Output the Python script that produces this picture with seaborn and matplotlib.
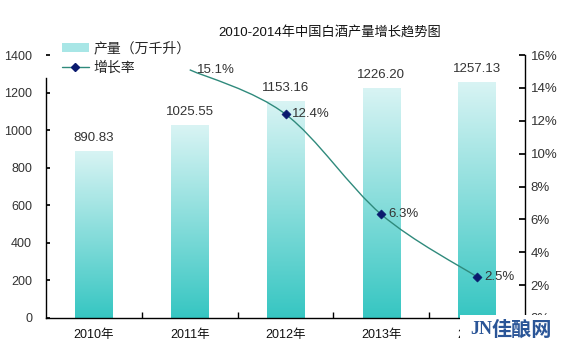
import numpy as np
import pandas as pd
import matplotlib
matplotlib.use("Agg")
import matplotlib.pyplot as plt
import seaborn as sns
from matplotlib.path import Path
from matplotlib.patches import PathPatch, Patch, Rectangle
from matplotlib.lines import Line2D
from matplotlib.colors import LinearSegmentedColormap

years = ["2010年", "2011年", "2012年", "2013年", "2014年"]
output = [890.83, 1025.55, 1153.16, 1226.20, 1257.13]
growth_years = ["2011年", "2012年", "2013年", "2014年"]
growth = [15.1, 12.4, 6.3, 2.5]
title = "2010-2014年中国白酒产量增长趋势图"
bar_label = "产量（万千升）"
line_label = "增长率"

sns.set_theme(style="white")
FAM = ["Liberation Sans", "Noto Sans CJK SC", "DejaVu Sans"]
plt.rcParams["font.family"] = FAM
TXT = "#333333"

W, H = 564, 348
fig = plt.figure(figsize=(W / 100, H / 100), dpi=100)
L, R, T, B = 46, 525, 55, 318
ax = fig.add_axes([L / W, 1 - B / H, (R - L) / W, (B - T) / H])

df = pd.DataFrame({"year": years, "output": output})
sns.barplot(data=df, x="year", y="output", ax=ax, width=0.39, color="#7fd8d8",
            saturation=1, zorder=2)
ax.set_xlim(-0.5, len(years) - 0.5)
ax.set_ylim(0, 1400)
ax.set_yticks(np.arange(0, 1401, 200))
ax.set_xlabel("")
ax.set_ylabel("")

# gradient fill for bars
cmap = LinearSegmentedColormap.from_list("g", ["#36c6c2", "#d9f4f4"])
grad = np.linspace(0, 1, 256).reshape(-1, 1)
for p in list(ax.patches):
    x0, y0 = p.get_x(), p.get_y()
    w, h = p.get_width(), p.get_height()
    im = ax.imshow(grad, extent=[x0, x0 + w, y0, y0 + h], origin="lower",
                   cmap=cmap, aspect="auto", zorder=2, interpolation="bicubic")
    im.set_clip_path(p)
    p.set_facecolor("none")
    p.set_edgecolor("none")
    ax.annotate(f"{h:.2f}", (x0 + w / 2, y0 + h), xytext=(0, 5),
                textcoords="offset points", ha="center", va="bottom",
                fontsize=9.5, color=TXT)
ax.set_xlim(-0.5, len(years) - 0.5)
ax.set_ylim(0, 1400)

for s in ["top", "right"]:
    ax.spines[s].set_visible(False)
for s in ["left", "bottom"]:
    ax.spines[s].set_color("black")
    ax.spines[s].set_linewidth(1)
ax.spines["left"].set_bounds(0, 1277)
ax.tick_params(axis="y", direction="in", length=3, colors="black",
               labelcolor=TXT, labelsize=9, left=True, pad=10)
ax.yaxis.get_major_ticks()[-1].tick1line.set_visible(False)
ax.tick_params(axis="x", length=0, labelsize=9, labelcolor="#111111", pad=8)
ax.set_xticks(np.arange(0.5, len(years) - 1, 1), minor=True)
ax.tick_params(axis="x", which="minor", direction="in", length=4,
               bottom=True, color="black")

# growth line on twin axis
ax2 = ax.twinx()
ax2.set_ylim(0, 16)
ax2.set_yticks(np.arange(0, 17, 2))
ax2.set_yticklabels([f"{v}%" for v in range(0, 17, 2)])
for s in ["top", "left", "bottom"]:
    ax2.spines[s].set_visible(False)
ax2.spines["right"].set_color("black")
ax2.spines["right"].set_linewidth(1)
ax2.tick_params(axis="y", direction="in", length=4, colors="black",
                labelcolor=TXT, labelsize=9.5, right=True, pad=4)
ax2.grid(False)
ax.grid(False)

gx = np.array([years.index(y) for y in growth_years], dtype=float)
gy = np.array(growth, dtype=float)
pts = np.column_stack([gx, gy])
ext = np.vstack([pts[0], pts, pts[-1]])
verts = [tuple(pts[0])]
codes = [Path.MOVETO]
for i in range(len(pts) - 1):
    p0, p1, p2, p3 = ext[i], ext[i + 1], ext[i + 2], ext[i + 3]
    c1 = p1 + (p2 - p0) / 6
    c2 = p2 - (p3 - p1) / 6
    verts += [tuple(c1), tuple(c2), tuple(p2)]
    codes += [Path.CURVE4] * 3
LINE_C = "#2f8a7c"
ax2.add_patch(PathPatch(Path(verts, codes), facecolor="none",
                        edgecolor=LINE_C, lw=1, zorder=3))
sns.scatterplot(x=gx[1:], y=gy[1:], ax=ax2, marker="D", s=22, color="#0a1a6e",
                edgecolor="#0a1a6e", zorder=4, legend=False)
for xx, yy in zip(gx, gy):
    ax2.annotate(f"{yy:.1f}%", (xx, yy), xytext=(5, 0), textcoords="offset points",
                 ha="left", va="center", fontsize=9.5, color=TXT, zorder=5)

fig.text(330 / W, 1 - 33 / H, title, ha="center", va="center",
         fontsize=9.5, color="#111111")

handles = [Patch(facecolor="#a8e6e6", edgecolor="none"),
           Line2D([], [], color=LINE_C, lw=1, marker="D", markersize=4.5,
                  markerfacecolor="#0a1a6e", markeredgecolor="#0a1a6e")]
fig.legend(handles, [bar_label, line_label], loc="upper left",
           bbox_to_anchor=(56 / W, 1 - 36 / H), frameon=False, fontsize=10,
           handlelength=2.0, handleheight=0.6, handletextpad=0.3,
           labelspacing=0.35, borderaxespad=0)

# watermark
fig.patches.append(Rectangle((460 / W, 0), (W - 460) / W, (H - 315) / H,
                             transform=fig.transFigure, facecolor="white",
                             edgecolor="none", zorder=10))
fig.text(470 / W, 1 - 329 / H, "JN", fontsize=13, fontweight="bold",
         color="#2a5597", ha="left", va="center", zorder=11,
         family=["Liberation Serif", "DejaVu Serif"])
fig.text(492 / W, 1 - 329 / H, "佳酿网", fontsize=14.5, fontweight="bold",
         color="#2a5597", ha="left", va="center", zorder=11,
         family=["Noto Sans CJK SC"])

fig.savefig("out.png", dpi=100)
